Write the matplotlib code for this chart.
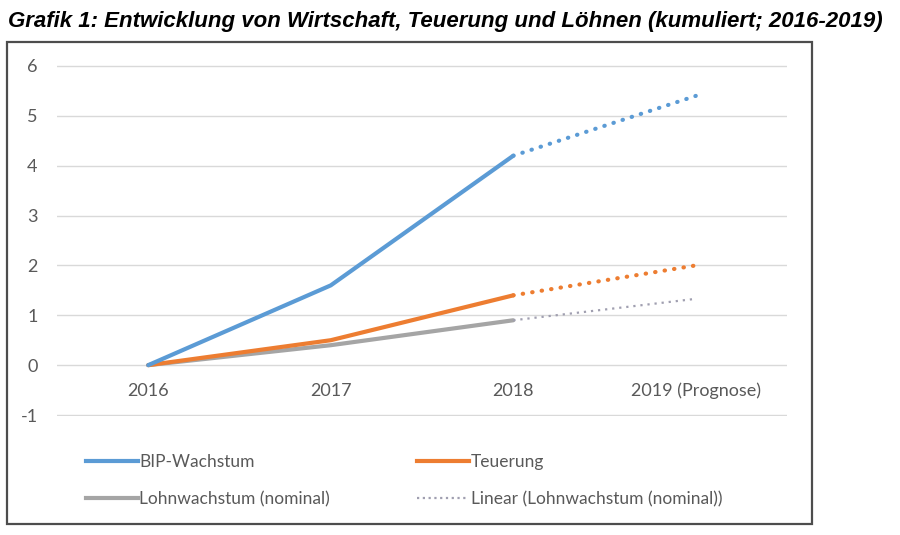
import matplotlib
matplotlib.use("Agg")
import matplotlib.pyplot as plt
from matplotlib.lines import Line2D
from matplotlib.patches import Rectangle

categories = ["2016", "2017", "2018", "2019 (Prognose)"]
bip = [0.0, 1.6, 4.2, 5.4]
teuerung = [0.0, 0.5, 1.4, 2.0]
lohn = [0.0, 0.4, 0.9]
lohn_trend = [0.9, 1.33]          # values at 2018 and 2019
trend_cats = [2, 3]
n_actual = 3                      # 2016-2018 are actual, 2019 is forecast
yticks = [-1, 0, 1, 2, 3, 4, 5, 6]

title = "Grafik 1: Entwicklung von Wirtschaft, Teuerung und Löhnen (kumuliert; 2016-2019)"
labels = ["BIP-Wachstum", "Teuerung", "Lohnwachstum (nominal)", "Linear (Lohnwachstum (nominal))"]

c_bip = "#5B9BD5"
c_teu = "#ED7D31"
c_lohn = "#A5A5A5"
c_trend = "#A09FB0"
txt = "#595959"
font = "Lato"

fig = plt.figure(figsize=(9, 5.35), dpi=100)
fig.patch.set_facecolor("white")

# outer box
fig.patches.append(Rectangle((7/900, 1-524/535), (812-7)/900, (524-42)/535,
                             transform=fig.transFigure, fill=False,
                             edgecolor="#4d4d4d", linewidth=1.6))

fig.text(8/900, 1-22/535, title, fontsize=16, fontweight="bold", fontstyle="italic",
         family="Liberation Sans", color="black", va="center", ha="left")

ax = fig.add_axes([57/900, 1-416/535, 730/900, 351/535])
x = list(range(len(categories)))
xa = x[:n_actual]
ax.set_xlim(-0.5, 3.5)
ax.set_ylim(-1.02, 6.02)
ax.set_yticks(yticks)
ax.set_yticklabels([str(v) for v in yticks])
for s in ax.spines.values():
    s.set_visible(False)
ax.grid(axis="y", color="#D9D9D9", linewidth=1.0)
ax.set_axisbelow(True)
ax.tick_params(axis="y", length=0, pad=14, labelsize=13, labelcolor=txt)
ax.set_xticks([])
for i, c in enumerate(categories):
    ax.text(i, -0.52, c, ha="center", va="center", fontsize=13, color=txt, family=font)
for lab in ax.get_yticklabels():
    lab.set_family(font)

lw = 3.0
ax.plot(xa, lohn, color=c_lohn, lw=lw, solid_capstyle="round", zorder=3)
ax.plot(trend_cats, lohn_trend, color=c_trend, lw=1.6, linestyle=(0, (1, 2.2)), zorder=3)
ax.plot(xa, teuerung[:n_actual], color=c_teu, lw=lw, solid_capstyle="round", zorder=4)
ax.plot(x[n_actual-1:], teuerung[n_actual-1:], color=c_teu, lw=lw,
        linestyle=(0, (0.1, 2.2)), dash_capstyle="round", zorder=4)
ax.plot(xa, bip[:n_actual], color=c_bip, lw=lw, solid_capstyle="round", zorder=5)
ax.plot(x[n_actual-1:], bip[n_actual-1:], color=c_bip, lw=lw,
        linestyle=(0, (0.1, 2.2)), dash_capstyle="round", zorder=5)

handles = [Line2D([], [], color=c_bip, lw=lw),
           Line2D([], [], color=c_teu, lw=lw),
           Line2D([], [], color=c_lohn, lw=lw),
           Line2D([], [], color=c_trend, lw=1.6, linestyle=(0, (1, 1.6)))]
order = [0, 2, 1, 3]
leg = fig.legend([handles[i] for i in order], [labels[i] for i in order],
                 loc="upper left", bbox_to_anchor=(70/900, 1-438/535), ncol=2,
                 frameon=False, handlelength=3.0, handletextpad=0.1,
                 columnspacing=5.0, labelspacing=1.25,
                 prop={"family": font, "size": 12.5})
for t in leg.get_texts():
    t.set_color(txt)

fig.savefig("out.png", dpi=100, facecolor="white")
